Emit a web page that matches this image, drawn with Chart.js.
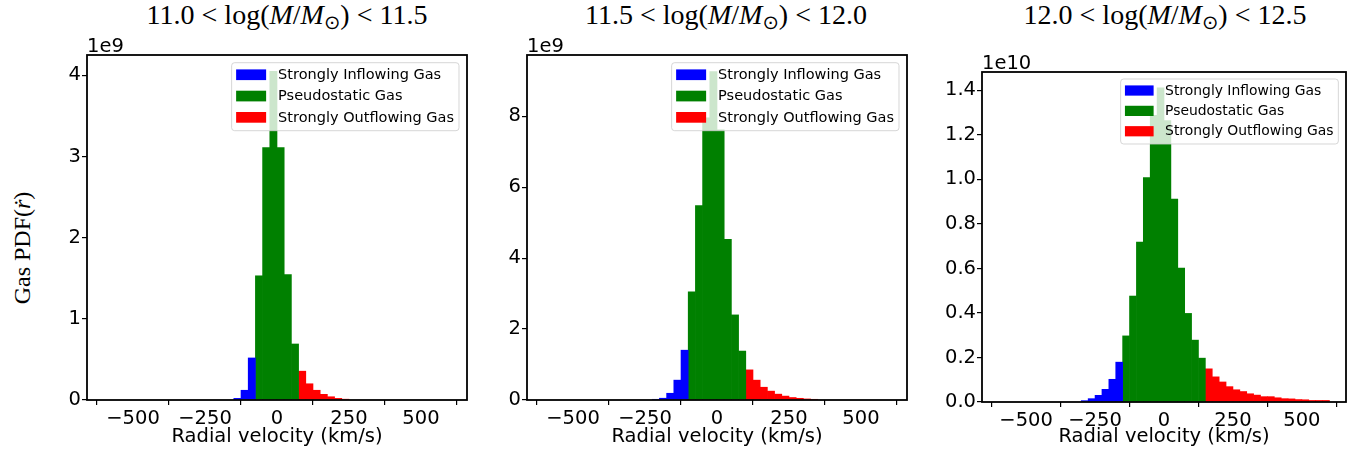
<!DOCTYPE html>
<html lang="en">
<head>
<meta charset="UTF-8">
<title>Gas PDF</title>
<script src="https://cdn.jsdelivr.net/npm/chart.js"></script>
<style>
  body { margin: 0; background: #fff; }
  #fig { position: relative; width: 1356px; height: 453px; overflow: hidden; background: #fff; }
  #fig canvas { position: absolute; }
  .title {
    position: absolute; top: 0; line-height: 30px; white-space: nowrap;
    font-family: 'Liberation Serif', 'DejaVu Serif', serif; font-size: 28px; color: #000;
    transform: translateX(-50%);
  }
  .title .op { margin: 0 0.25em; }
  .title sub { font-size: 0.7em; vertical-align: -0.25em; font-family: 'DejaVu Sans', sans-serif; }
  .ylabel {
    position: absolute; left: 22px; top: 248px; white-space: nowrap;
    font-family: 'Liberation Serif', 'DejaVu Serif', serif; font-size: 24px; color: #000;
    transform: translate(-50%, -50%) rotate(-90deg);
  }
</style>
</head>
<body>
<div id="fig">
  <div class="title" style="left:287px">11.0<span class="op">&lt;</span>log(<i>M</i>/<i>M</i><sub>&#8857;</sub>)<span class="op">&lt;</span>11.5</div>
  <div class="title" style="left:726px">11.5<span class="op">&lt;</span>log(<i>M</i>/<i>M</i><sub>&#8857;</sub>)<span class="op">&lt;</span>12.0</div>
  <div class="title" style="left:1165px">12.0<span class="op">&lt;</span>log(<i>M</i>/<i>M</i><sub>&#8857;</sub>)<span class="op">&lt;</span>12.5</div>
  <div class="ylabel">Gas PDF(<i>&#7769;</i>)</div>
  <canvas id="p1"></canvas>
  <canvas id="p2"></canvas>
  <canvas id="p3"></canvas>
</div>
<script>
// histogram bins are 25 km/s wide; each series lists bar heights from its first bin edge
const binWidth = 25;
const velocityTicks = [-500, -250, 0, 250, 500];
const legendLabels = ['Strongly Inflowing Gas', 'Pseudostatic Gas', 'Strongly Outflowing Gas'];
const seriesColors = ['#0000ff', '#008000', '#ff0000'];

// 11.0 < log(M) < 11.5, heights in units of 1e9
const p1InflowStart = -150;
const p1Inflow = [0.02, 0.12, 0.518];
const p1StaticStart = -75;
const p1Static = [1.53, 3.11, 4.05, 3.11, 1.545, 0.69];
const p1OutflowStart = 75;
const p1Outflow = [0.355, 0.2, 0.12, 0.07, 0.04, 0.02, 0.01];
const p1YTicks = [0, 1, 2, 3, 4];
const p1YLabels = ['0', '1', '2', '3', '4'];

// 11.5 < log(M) < 12.0, heights in units of 1e9
const p2InflowStart = -225;
const p2Inflow = [0.02, 0.05, 0.19, 0.56, 1.405];
const p2StaticStart = -100;
const p2Static = [3.05, 5.48, 7.96, 9.26, 7.62, 4.53, 2.4, 1.38];
const p2OutflowStart = 100;
const p2Outflow = [0.85, 0.56, 0.36, 0.25, 0.165, 0.11, 0.07, 0.048, 0.03, 0.02];
const p2YTicks = [0, 2, 4, 6, 8];
const p2YLabels = ['0', '2', '4', '6', '8'];

// 12.0 < log(M) < 12.5, heights in units of 1e10
const p3InflowStart = -300;
const p3Inflow = [0.006, 0.015, 0.03, 0.057, 0.102, 0.179];
const p3StaticStart = -150;
const p3Static = [0.297, 0.476, 0.719, 1.008, 1.288, 1.411, 1.264, 0.912, 0.602, 0.398, 0.278, 0.197];
const p3OutflowStart = 150;
const p3Outflow = [0.149, 0.113, 0.09, 0.069, 0.055, 0.047, 0.037, 0.031, 0.024, 0.024,
                   0.019, 0.015, 0.014, 0.011, 0.01, 0.007, 0.007, 0.007];
const p3YTicks = [0, 0.2, 0.4, 0.6, 0.8, 1.0, 1.2, 1.4];
const p3YLabels = ['0.0', '0.2', '0.4', '0.6', '0.8', '1.0', '1.2', '1.4'];

function bins(start, values) {
  return values.map((v, i) => ({ x: start + binWidth * (i + 0.5), y: v }));
}

function minusSign(v) {
  return v < 0 ? '\u2212' + Math.abs(v) : String(v);
}

// frame, offset text ("1e9") and a matplotlib style legend drawn above the bars
const panelDecor = {
  id: 'panelDecor',
  afterDraw(chart, args, opts) {
    const ctx = chart.ctx;
    const a = chart.chartArea;
    ctx.save();
    ctx.strokeStyle = '#000';
    ctx.lineWidth = 1.8;
    ctx.strokeRect(a.left, a.top, a.right - a.left, a.bottom - a.top);

    ctx.fillStyle = '#000';
    ctx.font = '19.5px "DejaVu Sans"';
    ctx.textAlign = 'left';
    ctx.textBaseline = 'alphabetic';
    ctx.fillText(opts.offsetText, a.left, a.top - 3);

    const k = opts.legendScale;
    ctx.font = opts.legendFont + 'px "DejaVu Sans"';
    const textW = Math.max(...legendLabels.map(t => ctx.measureText(t).width));
    const w = 51.5 * k + textW;
    const h = 68 * k;
    const rowH = 21.3 * k;
    const x = a.right - 8 * k - w;
    const y = a.top + opts.legendTop;
    ctx.beginPath();
    ctx.roundRect(x, y, w, h, 3);
    ctx.fillStyle = 'rgba(255,255,255,0.8)';
    ctx.fill();
    ctx.strokeStyle = 'rgba(204,204,204,0.8)';
    ctx.lineWidth = 1;
    ctx.stroke();
    ctx.textBaseline = 'middle';
    legendLabels.forEach((label, i) => {
      const cy = y + 12 * k + i * rowH;
      ctx.fillStyle = seriesColors[i];
      ctx.fillRect(x + 4.5 * k, cy - 5.3 * k, 30 * k, 10.7 * k);
      ctx.fillStyle = '#000';
      ctx.fillText(label, x + 46.5 * k, cy + 0.5);
    });
    ctx.restore();
  }
};

function makePanel(id, box, p) {
  const yW = 62, padTop = 26, padRight = 8;
  const canvas = document.getElementById(id);
  const width = box.right - box.left + yW + padRight;
  const height = 453 - (box.top - padTop);
  canvas.width = width;
  canvas.height = height;
  canvas.style.left = (box.left - yW) + 'px';
  canvas.style.top = (box.top - padTop) + 'px';
  canvas.style.width = width + 'px';
  canvas.style.height = height + 'px';

  const tickFont = { family: 'DejaVu Sans', size: 19.5 };
  const bar = (label, data, color) => ({
    label, data, backgroundColor: color, borderWidth: 0,
    barPercentage: 1, categoryPercentage: 1, grouped: false
  });

  new Chart(canvas, {
    type: 'bar',
    data: {
      datasets: [
        bar(legendLabels[0], bins(p.inStart, p.inflow), seriesColors[0]),
        bar(legendLabels[1], bins(p.stStart, p.pseudo), seriesColors[1]),
        bar(legendLabels[2], bins(p.outStart, p.outflow), seriesColors[2])
      ]
    },
    options: {
      responsive: false,
      animation: false,
      devicePixelRatio: 1,
      layout: { padding: { top: padTop, right: padRight, left: 0, bottom: 0 } },
      plugins: {
        legend: { display: false },
        tooltip: { enabled: false },
        panelDecor: {
          offsetText: p.offsetText, legendFont: p.legendFont,
          legendScale: p.legendScale, legendTop: p.legendTop
        }
      },
      scales: {
        x: {
          type: 'linear', min: -660, max: 660, offset: false,
          afterBuildTicks: s => { s.ticks = velocityTicks.map(v => ({ value: v })); },
          afterFit: s => { s.height = 453 - box.bottom; },
          grid: { display: true, drawOnChartArea: false, drawTicks: true, tickLength: 5, color: '#000', lineWidth: 1.2 },
          border: { display: false },
          ticks: { color: '#000', font: tickFont, padding: 2, maxRotation: 0, callback: v => minusSign(v) },
          title: { display: true, text: 'Radial velocity (km/s)', color: '#000', font: tickFont, padding: { top: 0, bottom: 4.4 } }
        },
        y: {
          type: 'linear', min: 0, max: p.yMax,
          afterBuildTicks: s => { s.ticks = p.yTicks.map(v => ({ value: v })); },
          afterFit: s => { s.width = yW; },
          grid: { display: true, drawOnChartArea: false, drawTicks: true, tickLength: 5, color: '#000', lineWidth: 1.2 },
          border: { display: false },
          ticks: {
            color: '#000', font: tickFont, padding: 1,
            callback: (v, i) => p.yLabels[i]
          }
        }
      }
    },
    plugins: [panelDecor]
  });
}

makePanel('p1', { left: 87, top: 55, right: 467, bottom: 400 }, {
  inStart: p1InflowStart, inflow: p1Inflow, stStart: p1StaticStart, pseudo: p1Static,
  outStart: p1OutflowStart, outflow: p1Outflow, yTicks: p1YTicks, yLabels: p1YLabels,
  yMax: 4.25, offsetText: '1e9', legendFont: 14.5, legendScale: 1, legendTop: 7.7
});
makePanel('p2', { left: 527, top: 55, right: 907, bottom: 400 }, {
  inStart: p2InflowStart, inflow: p2Inflow, stStart: p2StaticStart, pseudo: p2Static,
  outStart: p2OutflowStart, outflow: p2Outflow, yTicks: p2YTicks, yLabels: p2YLabels,
  yMax: 9.73, offsetText: '1e9', legendFont: 14.5, legendScale: 1, legendTop: 7.7
});
makePanel('p3', { left: 982, top: 72, right: 1346, bottom: 402 }, {
  inStart: p3InflowStart, inflow: p3Inflow, stStart: p3StaticStart, pseudo: p3Static,
  outStart: p3OutflowStart, outflow: p3Outflow, yTicks: p3YTicks, yLabels: p3YLabels,
  yMax: 1.4826, offsetText: '1e10', legendFont: 13.9, legendScale: 0.956, legendTop: 7
});
</script>
</body>
</html>
